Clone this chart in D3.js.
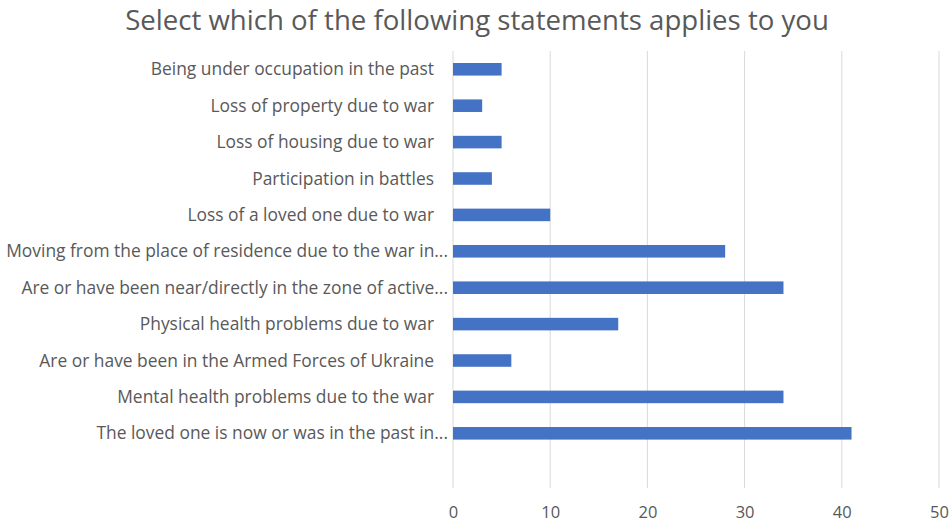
<!DOCTYPE html>
<html>
<head>
<meta charset="utf-8">
<script src="https://cdn.jsdelivr.net/npm/d3@7"></script>
<style>
    body { margin: 0; background: #fff; }
    svg { display: block; }
    svg text { font-family: "Open Sans", "Noto Sans", sans-serif; fill: #595959; }
</style>
</head>
<body>
<svg id="chart"></svg>
<script>
// Categories top to bottom, the last one is blank in the source sheet
const categories = [
    "Being under occupation in the past",
    "Loss of property due to war",
    "Loss of housing due to war",
    "Participation in battles",
    "Loss of a loved one due to war",
    "Moving from the place of residence due to the war in...",
    "Are or have been near/directly in the zone of active...",
    "Physical health problems due to war",
    "Are or have been in the Armed Forces of Ukraine",
    "Mental health problems due to the war",
    "The loved one is now or was in the past in...",
    ""
];
const values = [5, 3, 5, 4, 10, 28, 34, 17, 6, 34, 41, null];
const xTicks = [0, 10, 20, 30, 40, 50];
const title = "Select which of the following statements applies to you";

const size = { width: 952, height: 523 };
const margin = { top: 51, right: 13, bottom: 35, left: 453 };
const width = size.width - margin.left - margin.right;
const height = size.height - margin.top - margin.bottom;

const svg = d3.select("#chart")
    .attr("width", size.width)
    .attr("height", size.height);

svg.append("text")
    .attr("x", 477)
    .attr("y", 29.5)
    .attr("text-anchor", "middle")
    .style("font-size", "27.6px")
    .text(title);

const g = svg.append("g")
    .attr("transform", "translate(" + margin.left + "," + margin.top + ")");

const x = d3.scaleLinear().domain([0, 50]).range([0, width]);
const y = d3.scaleBand().domain(d3.range(categories.length)).range([0, height]).paddingInner(0.655).paddingOuter(0.33);

// Vertical gridlines
g.selectAll(".grid")
    .data(xTicks)
    .enter()
    .append("line")
    .attr("class", "grid")
    .attr("x1", d => x(d))
    .attr("x2", d => x(d))
    .attr("y1", 0)
    .attr("y2", height)
    .attr("stroke", "#d9d9d9")
    .attr("stroke-width", 1);

// Bars
g.selectAll(".bar")
    .data(values.map((v, i) => ({ v: v, i: i })).filter(d => d.v != null))
    .enter()
    .append("rect")
    .attr("class", "bar")
    .attr("x", x(0))
    .attr("y", d => y(d.i))
    .attr("width", d => x(d.v) - x(0))
    .attr("height", y.bandwidth())
    .attr("fill", "#4472c4");

// Category labels (truncated ones sit closer to the axis)
g.selectAll(".cat")
    .data(categories)
    .enter()
    .append("text")
    .attr("class", "cat")
    .attr("x", d => d.endsWith("...") ? -5 : -19)
    .attr("y", (d, i) => y(i) + y.bandwidth() / 2)
    .attr("dy", "0.35em")
    .attr("text-anchor", "end")
    .style("font-size", "17.4px")
    .text(d => d);

// X axis labels
const xAxis = g.append("g")
    .attr("transform", "translate(0," + height + ")")
    .call(d3.axisBottom(x).tickValues(xTicks).tickSize(0).tickPadding(18.5));
xAxis.select(".domain").remove();
xAxis.selectAll("text")
    .style("font-size", "16.5px")
    .attr("fill", "#595959");
</script>
</body>
</html>
